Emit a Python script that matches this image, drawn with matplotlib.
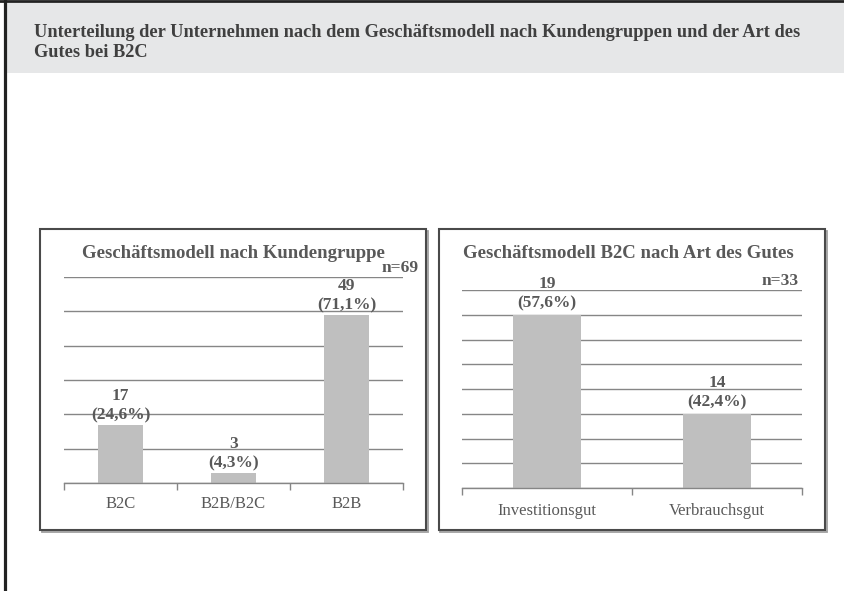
import matplotlib.pyplot as plt
from matplotlib.patches import Rectangle
from matplotlib.lines import Line2D
import numpy as np

W, H = 844, 591

kunden_labels = ["B2C", "B2B/B2C", "B2B"]
kunden_counts = [17, 3, 49]
kunden_pct = ["24,6%", "4,3%", "71,1%"]
kunden_n = 69

gut_labels = ["Investitionsgut", "Verbrauchsgut"]
gut_counts = [19, 14]
gut_pct = ["57,6%", "42,4%"]
gut_n = 33

TEXT = "#595959"
GRID = "#868686"
BAR = "#bfbfbf"

plt.rcParams["font.family"] = ["Liberation Serif", "DejaVu Serif"]


def fx(x):
    return x / W


def fy(y):
    return 1 - y / H


fig = plt.figure(figsize=(W / 100, H / 100), dpi=100)

# header band and outer frame
fig.patches.append(Rectangle((fx(6), fy(73)), 1 - fx(6), (73 - 3) / H, transform=fig.transFigure,
                             facecolor="#e6e7e8", edgecolor="none", zorder=-2))
fig.lines.append(Line2D([0, 1], [fy(1.3), fy(1.3)], transform=fig.transFigure, color="#222222", lw=2))
fig.lines.append(Line2D([fx(4.5), fx(4.5)], [0, 1], transform=fig.transFigure, color="#222222", lw=2.3))

fig.text(fx(34), fy(24), "Unterteilung der Unternehmen nach dem Geschäftsmodell nach Kundengruppen und der Art des\nGutes bei B2C",
         fontsize=13.2, fontweight="bold", color="#404040", ha="left", va="top", linespacing=1.25)

# panel frames
for x0, x1 in [(40, 426), (439, 825)]:
    fig.patches.append(Rectangle((fx(x0 + 1.5), fy(530 + 1.5)), (x1 - x0) / W, (530 - 229) / H,
                                 transform=fig.transFigure, facecolor="none", edgecolor="#a0a0a0",
                                 lw=1.3, zorder=-2))
    fig.patches.append(Rectangle((fx(x0), fy(530)), (x1 - x0) / W, (530 - 229) / H,
                                 transform=fig.transFigure, facecolor="white", edgecolor="#4a4a4a",
                                 lw=1.5, zorder=-1))


def style_axes(ax, n_cat, pad):
    ax.set_axisbelow(True)
    ax.yaxis.grid(True, color=GRID, lw=1)
    for s in ["left", "right", "top"]:
        ax.spines[s].set_visible(False)
    ax.spines["bottom"].set_color(GRID)
    ax.spines["bottom"].set_linewidth(1)
    ax.tick_params(axis="y", left=False, labelleft=False)
    ax.set_xlim(-0.5, n_cat - 0.5)
    ax.set_xticks(range(n_cat))
    ax.set_xticks(np.arange(-0.5, n_cat, 1.0), minor=True)
    ax.tick_params(axis="x", which="major", length=0, pad=pad, labelsize=12, labelcolor=TEXT)
    ax.tick_params(axis="x", which="minor", length=5, color=GRID, width=1)
    ax.patch.set_alpha(0)


def add_labels(ax, counts, pcts, lift):
    for i, (c, p) in enumerate(zip(counts, pcts)):
        ax.annotate(f"{c}\n({p})", (i, c), xytext=(0, lift), textcoords="offset points",
                    ha="center", va="bottom", fontsize=12.5, fontweight="bold", color=TEXT,
                    linespacing=1.3)


# left chart
ax1 = fig.add_axes([fx(64), fy(483), (403 - 64) / W, (483 - 277) / H])
ax1.bar(range(len(kunden_counts)), kunden_counts, width=0.4, color=BAR)
ax1.set_ylim(0, 60)
ax1.set_yticks(range(0, 61, 10))
style_axes(ax1, len(kunden_labels), 9)
ax1.set_xticklabels(kunden_labels)
add_labels(ax1, kunden_counts, kunden_pct, 1)
ax1.annotate(f"n={kunden_n}", (1, 1), xycoords="axes fraction", xytext=(11, 1), textcoords="offset points",
             ha="right", va="bottom", fontsize=12.5, fontweight="bold", color=TEXT)
fig.text(fx(233), fy(253), "Geschäftsmodell nach Kundengruppe", fontsize=13.5, fontweight="bold",
         color=TEXT, ha="center", va="center")

# right chart
ax2 = fig.add_axes([fx(462), fy(488), (802 - 462) / W, (488 - 290) / H])
ax2.bar(range(len(gut_counts)), gut_counts, width=0.4, color=BAR)
ax2.set_ylim(10.25, 20.25)
ax2.set_yticks(np.arange(10.25, 20.3, 1.25))
style_axes(ax2, len(gut_labels), 11)
ax2.set_xticklabels(gut_labels)
add_labels(ax2, gut_counts, gut_pct, 2.5)
ax2.annotate(f"n={gut_n}", (1, 1), xycoords="axes fraction", xytext=(-2.5, 1), textcoords="offset points",
             ha="right", va="bottom", fontsize=12.5, fontweight="bold", color=TEXT)
fig.text(fx(628), fy(253), "Geschäftsmodell B2C nach Art des Gutes", fontsize=13.5, fontweight="bold",
         color=TEXT, ha="center", va="center")

fig.savefig("out.png", dpi=100)
